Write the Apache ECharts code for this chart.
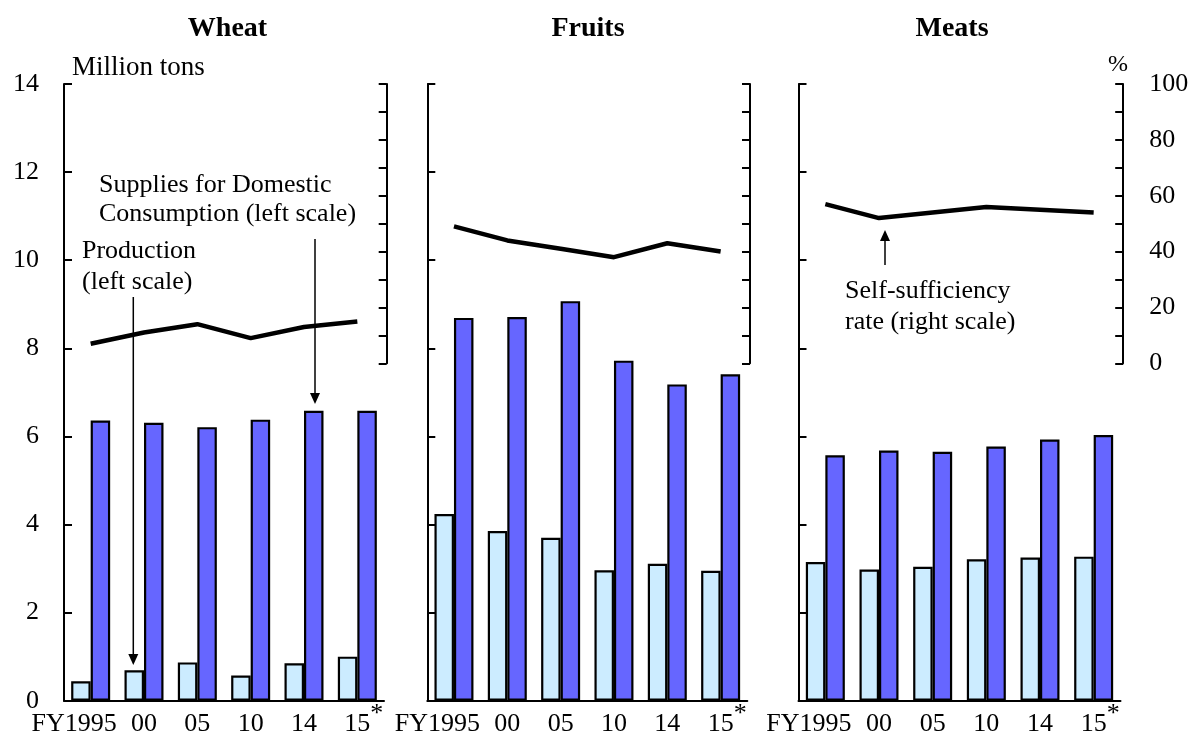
<!DOCTYPE html>
<html>
<head>
<meta charset="utf-8">
<script src="https://cdn.jsdelivr.net/npm/echarts@6/dist/echarts.min.js"></script>
<style>html,body{margin:0;padding:0;background:#fff;}#c{width:1192px;height:742px;}</style>
</head>
<body>
<div id="c"></div>
<script>
// ---- data ----
const categories = ['FY1995', '00', '05', '10', '14', '15*'];
const panelTitles = ['Wheat', 'Fruits', 'Meats'];
const leftTicks = [0, 2, 4, 6, 8, 10, 12, 14];
const rightTicks = [0, 20, 40, 60, 80, 100];

const wheatProduction = [0.44, 0.69, 0.87, 0.57, 0.85, 1.00];
const wheatSupplies   = [6.36, 6.31, 6.21, 6.38, 6.58, 6.58];
const wheatRate       = [7, 11, 14, 9, 13, 15];

const fruitsProduction = [4.24, 3.85, 3.70, 2.96, 3.11, 2.95];
const fruitsSupplies   = [8.69, 8.71, 9.07, 7.72, 7.18, 7.41];
const fruitsRate       = [49, 44, 41, 38, 43, 40];

const meatsProduction = [3.15, 2.98, 3.04, 3.21, 3.25, 3.27];
const meatsSupplies   = [5.57, 5.68, 5.65, 5.77, 5.93, 6.03];
const meatsRate       = [57, 52, 54, 56, 55, 54];

// ---- layout ----
const FONT = '"Liberation Serif", "Times New Roman", serif';
const panels = [
  { left: 64, width: 320, prod: wheatProduction, sup: wheatSupplies, rate: wheatRate, leftLabels: true, rightLabels: false },
  { left: 427.3, width: 320, prod: fruitsProduction, sup: fruitsSupplies, rate: fruitsRate, leftLabels: false, rightLabels: false },
  { left: 798.5, width: 322, prod: meatsProduction, sup: meatsSupplies, rate: meatsRate, leftLabels: false, rightLabels: true }
];
const TOP = 84, BAR_H = 616.7, LINE_H = 279.3;

const grid = [], xAxis = [], yAxis = [], series = [];

function xLabelFormatter(v, i) {
  if (i === 0) return '{fy|FY}' + v.replace('FY', '') + '{sp|}';
  if (v.indexOf('*') >= 0) return '{sp2|}' + v.replace('*', '') + '{sup|*}';
  return v;
}

panels.forEach((p, k) => {
  grid.push({ left: p.left, top: TOP, width: p.width, height: BAR_H, containLabel: false, outerBoundsMode: 'none' });
  grid.push({ left: p.left, top: TOP, width: p.width, height: LINE_H, containLabel: false, outerBoundsMode: 'none' });
  const gb = 2 * k, gl = 2 * k + 1;
  xAxis.push({
    type: 'category', gridIndex: gb, data: categories,
    axisLine: { show: true, lineStyle: { color: '#000', width: 2 } },
    axisTick: { show: false },
    axisLabel: {
      color: '#000', fontFamily: FONT, fontSize: 26, margin: 0, lineHeight: 46,
      interval: 0, formatter: xLabelFormatter,
      rich: {
        fy: { fontFamily: FONT, fontSize: 26, color: '#000', lineHeight: 46 },
        sp: { width: 33, lineHeight: 46 },
        sp2: { width: 13, lineHeight: 46 },
        sup: { fontFamily: FONT, fontSize: 26, color: '#000', verticalAlign: 'top', lineHeight: 26 }
      }
    },
    splitLine: { show: false }
  });
  xAxis.push({
    type: 'category', gridIndex: gl, data: categories,
    axisLine: { show: false }, axisTick: { show: false }, axisLabel: { show: false }, splitLine: { show: false }
  });
  yAxis.push({
    type: 'value', gridIndex: gb, min: 0, max: 14, interval: 2, position: 'left',
    axisLine: { show: true, lineStyle: { color: '#000', width: 2 } },
    axisTick: { show: true, inside: true, length: 8, lineStyle: { color: '#000', width: 2 } },
    axisLabel: { show: p.leftLabels, color: '#000', fontFamily: FONT, fontSize: 26, margin: 25,
      formatter: v => (leftTicks.indexOf(v) >= 0 ? String(v) : '') },
    splitLine: { show: false }
  });
  yAxis.push({
    type: 'value', gridIndex: gl, min: 0, max: 100, interval: 10, position: 'right', offset: 2.7,
    axisLine: { show: true, lineStyle: { color: '#000', width: 2 } },
    axisTick: { show: true, inside: true, length: 8, lineStyle: { color: '#000', width: 2 } },
    axisLabel: { show: p.rightLabels, color: '#000', fontFamily: FONT, fontSize: 26, margin: 26,
      formatter: v => (rightTicks.indexOf(v) >= 0 ? String(v) : '') },
    splitLine: { show: false }
  });
  series.push({
    type: 'bar', xAxisIndex: 2 * k, yAxisIndex: 2 * k, data: p.prod,
    barWidth: 19.5, barGap: '0%',
    itemStyle: { color: '#CCECFF', borderColor: '#000', borderWidth: 2.2 },
    silent: true, animation: false
  });
  series.push({
    type: 'bar', xAxisIndex: 2 * k, yAxisIndex: 2 * k, data: p.sup,
    barWidth: 19.5, barGap: '0%',
    itemStyle: { color: '#6666FF', borderColor: '#000', borderWidth: 2.2 },
    silent: true, animation: false
  });
  series.push({
    type: 'line', xAxisIndex: 2 * k + 1, yAxisIndex: 2 * k + 1, data: p.rate,
    symbol: 'none', lineStyle: { color: '#000', width: 4.5 }, z: 5,
    silent: true, animation: false
  });
});

function txt(text, x, y, opts) {
  return {
    type: 'text', z: 100,
    style: Object.assign({ text: text, x: x, y: y, font: '26px ' + FONT, fill: '#000',
      textAlign: 'left', textVerticalAlign: 'middle' }, opts || {})
  };
}
function arrow(x, y1, y2) {
  const dir = y2 > y1 ? 1 : -1;
  const headLen = 11, headHalf = 5;
  return [
    { type: 'line', z: 100, shape: { x1: x, y1: y1, x2: x, y2: y2 - dir * headLen }, style: { stroke: '#000', lineWidth: 1.5 } },
    { type: 'polygon', z: 100, shape: { points: [[x - headHalf, y2 - dir * headLen], [x + headHalf, y2 - dir * headLen], [x, y2]] }, style: { fill: '#000' } }
  ];
}

const graphic = [
  txt(panelTitles[0], 227.5, 29, { font: 'bold 28px ' + FONT, textAlign: 'center' }),
  txt(panelTitles[1], 588, 29, { font: 'bold 28px ' + FONT, textAlign: 'center' }),
  txt(panelTitles[2], 952, 29, { font: 'bold 28px ' + FONT, textAlign: 'center' }),
  txt('Million tons', 72, 68, { font: '27px ' + FONT }),
  txt('%', 1118, 65, { textAlign: 'center', font: '24px ' + FONT }),
  txt('Supplies for Domestic', 99, 185),
  txt('Consumption (left scale)', 99, 214),
  txt('Production', 82, 251),
  txt('(left scale)', 82, 282),
  txt('Self-sufficiency', 845, 291),
  txt('rate (right scale)', 845, 322)
].concat(arrow(133.3, 297, 665), arrow(315, 239, 404), arrow(885, 265, 230));

const chart = echarts.init(document.getElementById('c'), null, { renderer: 'canvas' });
chart.setOption({
  backgroundColor: '#fff',
  animation: false,
  textStyle: { fontFamily: FONT },
  grid: grid, xAxis: xAxis, yAxis: yAxis, series: series,
  graphic: graphic
});
</script>
</body>
</html>
